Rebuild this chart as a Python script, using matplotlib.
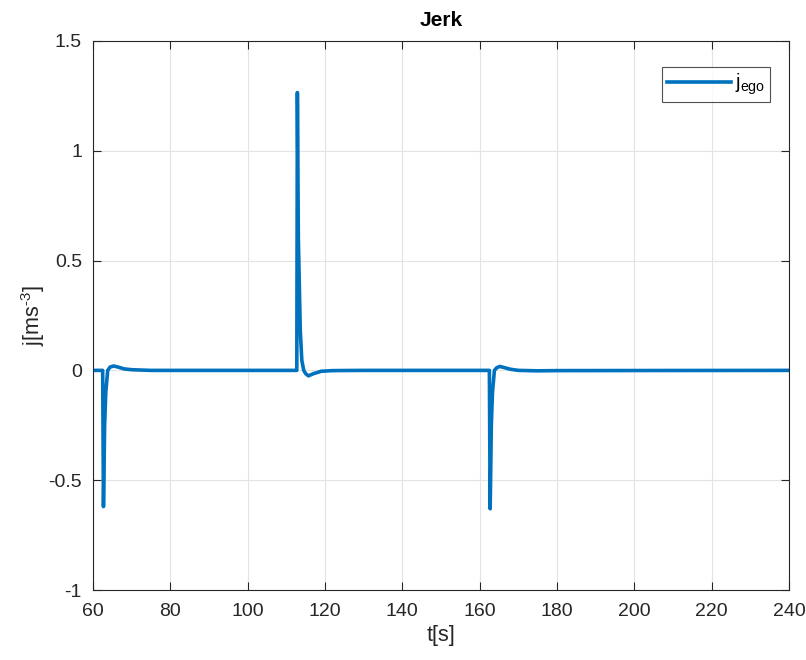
import matplotlib
matplotlib.use("Agg")
import matplotlib.pyplot as plt

# time [s] and jerk [m/s^3]
t = [60.0, 62.5, 62.7, 62.85, 63.0, 63.3, 63.8, 64.4, 65.3, 66.5, 68.0, 70.0, 75.0,
     112.7, 112.85, 113.1, 113.6, 114.0, 114.5, 115.0, 115.7, 117.0, 119.0, 122.0, 130.0,
     162.5, 162.7, 162.85, 163.0, 163.3, 163.8, 164.4, 165.2, 166.5, 168.0, 170.0, 175.0,
     180.0, 240.0]
j_ego = [0.0, 0.0, -0.62, -0.45, -0.25, -0.1, 0.0, 0.015, 0.02, 0.015, 0.007, 0.003, 0.0,
         0.0, 1.265, 0.6, 0.18, 0.045, 0.0, -0.015, -0.025, -0.015, -0.004, -0.001, 0.0,
         0.0, -0.63, -0.45, -0.25, -0.1, 0.0, 0.012, 0.018, 0.012, 0.005, 0.0, -0.002,
         -0.001, 0.0]

xticks = list(range(60, 241, 20))
yticks = [-1, -0.5, 0, 0.5, 1, 1.5]
ytick_labels = ["-1", "-0.5", "0", "0.5", "1", "1.5"]

plt.rcParams['font.family'] = ['Liberation Sans', 'DejaVu Sans']
plt.rcParams['mathtext.fontset'] = 'custom'
plt.rcParams['mathtext.rm'] = 'Liberation Sans'
plt.rcParams['mathtext.it'] = 'Liberation Sans'

fig = plt.figure(figsize=(8.06, 6.6), dpi=100)
ax = fig.add_axes([0.1154, 0.106, 0.8636, 0.832])
ax.plot(t, j_ego, color="#0072bd", linewidth=2.6, label=r"j$_{\mathrm{ego}}$")

ax.set_xlim(60, 240)
ax.set_ylim(-1, 1.5)
ax.set_xticks(xticks)
ax.set_yticks(yticks)
ax.set_yticklabels(ytick_labels)
ax.tick_params(direction="in", top=True, right=True, labelsize=14, colors="#262626",
               length=6, width=0.8)
ax.tick_params(axis="x", pad=9)
ax.tick_params(axis="y", pad=8)
for s in ax.spines.values():
    s.set_color("#262626")
    s.set_linewidth(0.8)
ax.grid(True, color="#e3e3e3", linewidth=0.8)
ax.set_axisbelow(True)

ax.set_title("Jerk", fontsize=15, fontweight="bold", color="black", pad=11)
ax.set_xlabel("t[s]", fontsize=15.5, color="#262626", labelpad=4)
ax.set_ylabel(r"j[ms$^{\text{-3}}$]", fontsize=15.5, color="#262626", labelpad=1)

leg = ax.legend(loc="upper right", fontsize=14.5, frameon=True, fancybox=False,
                edgecolor="#262626", borderpad=0.25, handlelength=3.2,
                handletextpad=0.2, borderaxespad=0,
                bbox_to_anchor=(0.973, 0.953))
leg.get_frame().set_linewidth(0.8)

fig.savefig("out.png", dpi=100)
